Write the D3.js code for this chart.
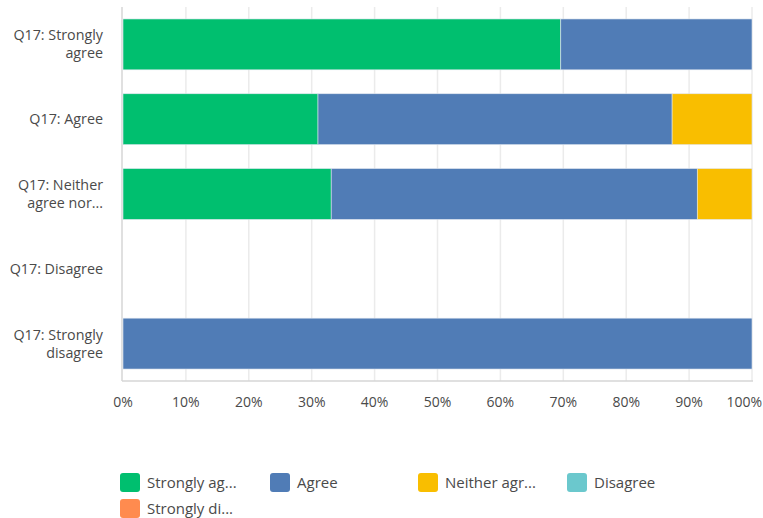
<!DOCTYPE html>
<html>
<head>
<meta charset="utf-8">
<script src="https://cdn.jsdelivr.net/npm/d3@7"></script>
<style>
  body { margin: 0; background: #fff; }
  svg text { font-family: "Open Sans", "Noto Sans", sans-serif; }
</style>
</head>
<body>
<div id="chart"></div>
<script>
// ----------------------------
// DATA
// ----------------------------
const rows = [
  ["Q17: Strongly", "agree"],
  ["Q17: Agree"],
  ["Q17: Neither", "agree nor..."],
  ["Q17: Disagree"],
  ["Q17: Strongly", "disagree"]
];
const seriesNames = ["Strongly agree", "Agree", "Neither agree nor disagree", "Disagree", "Strongly disagree"];
const legendLabels = ["Strongly ag...", "Agree", "Neither agr...", "Disagree", "Strongly di..."];
const colors = ["#00bf6f", "#507cb6", "#f9be00", "#6bc8cd", "#ff8b4f"];

// percent per row, one array per series
const stronglyAgree    = [69.6, 31.0, 33.1, 0, 0];
const agree            = [30.4, 56.3, 58.2, 0, 100];
const neither          = [0, 12.7, 8.7, 0, 0];
const disagree         = [0, 0, 0, 0, 0];
const stronglyDisagree = [0, 0, 0, 0, 0];

const xTicks = [0, 10, 20, 30, 40, 50, 60, 70, 80, 90, 100];

const seriesValues = [stronglyAgree, agree, neither, disagree, stronglyDisagree];
const table = rows.map((r, i) => {
  const o = { idx: i };
  seriesNames.forEach((s, j) => o[s] = seriesValues[j][i]);
  return o;
});

// ----------------------------
// SETUP
// ----------------------------
const width = 763, height = 518;
const svg = d3.select("#chart").append("svg")
  .attr("width", width).attr("height", height);

const x = d3.scaleLinear().domain([0, 100]).range([123, 752]);
const y = d3.scaleBand().domain(d3.range(rows.length))
  .range([7, 381]).paddingInner(0.32).paddingOuter(0.16);

// gridlines
svg.append("g").selectAll("line")
  .data(xTicks.slice(1))
  .join("line")
  .attr("x1", d => x(d)).attr("x2", d => x(d))
  .attr("y1", 7).attr("y2", 381)
  .attr("stroke", "#ebebeb").attr("stroke-width", 1.5);

// axis lines
svg.append("line")
  .attr("x1", 122).attr("x2", 122).attr("y1", 7).attr("y2", 381)
  .attr("stroke", "#d6d6d6").attr("stroke-width", 1.5);
svg.append("line")
  .attr("x1", 122).attr("x2", 753).attr("y1", 381).attr("y2", 381)
  .attr("stroke", "#d6d6d6").attr("stroke-width", 1.5);

// ----------------------------
// BARS
// ----------------------------
const stack = d3.stack().keys(seriesNames)(table);

svg.append("g").selectAll("g")
  .data(stack)
  .join("g")
  .attr("fill", (d, i) => colors[i])
  .selectAll("rect")
  .data(d => d.filter(p => p[1] - p[0] > 0))
  .join("rect")
  .attr("x", d => x(d[0]))
  .attr("y", d => y(d.data.idx))
  .attr("width", d => x(d[1]) - x(d[0]))
  .attr("height", y.bandwidth())
  .attr("stroke", "#dfe6f0")
  .attr("stroke-width", 0.6);

// ----------------------------
// Y LABELS
// ----------------------------
const ylab = svg.append("g").selectAll("text")
  .data(rows)
  .join("text")
  .attr("text-anchor", "end")
  .attr("font-size", "14.3px")
  .attr("fill", "#4a4a4a")
  .attr("transform", (d, i) => `translate(103, ${y(i) + y.bandwidth() / 2})`);

ylab.selectAll("tspan")
  .data(d => d.map((t, k) => ({ t, k, n: d.length })))
  .join("tspan")
  .attr("x", 0)
  .attr("y", d => (d.k - (d.n - 1) / 2) * 18 + 5)
  .text(d => d.t);

// ----------------------------
// X TICKS
// ----------------------------
svg.append("g").selectAll("text")
  .data(xTicks)
  .join("text")
  .attr("x", d => d === 100 ? 762 : x(d))
  .attr("y", 407)
  .attr("text-anchor", d => d === 100 ? "end" : "middle")
  .attr("font-size", "14px")
  .attr("fill", "#4a4a4a")
  .text(d => d + "%");

// ----------------------------
// LEGEND
// ----------------------------
const legendX = [120, 270, 418, 567];
const legend = svg.append("g").selectAll("g")
  .data(legendLabels)
  .join("g")
  .attr("transform", (d, i) => `translate(${legendX[i % 4]}, ${473 + Math.floor(i / 4) * 26})`);

legend.append("rect")
  .attr("width", 20).attr("height", 19).attr("rx", 3)
  .attr("fill", (d, i) => colors[i]);

legend.append("text")
  .attr("x", 27).attr("y", 15)
  .attr("font-size", "15px")
  .attr("fill", "#4a4a4a")
  .text(d => d);
</script>
</body>
</html>
